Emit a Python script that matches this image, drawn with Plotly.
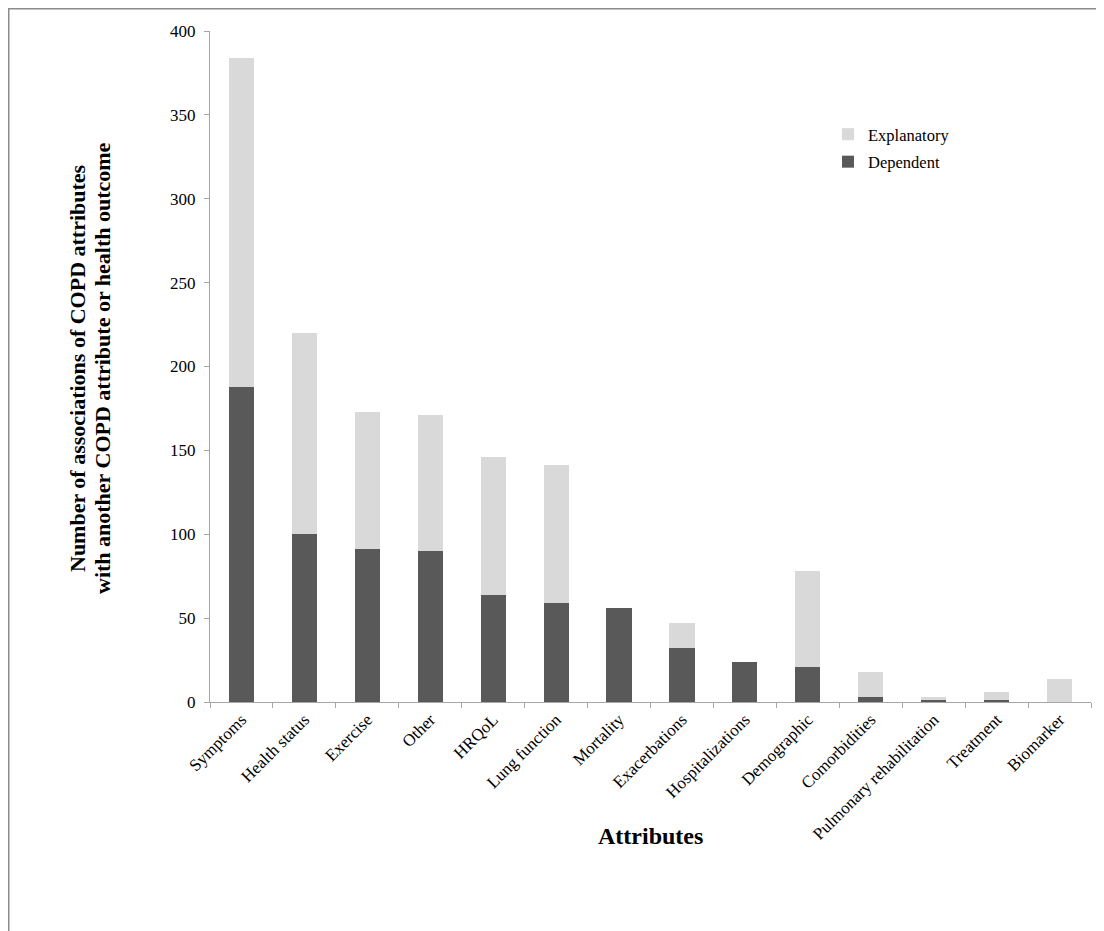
import plotly.graph_objects as go

categories = ["Symptoms", "Health status", "Exercise", "Other", "HRQoL", "Lung function",
              "Mortality", "Exacerbations", "Hospitalizations", "Demographic", "Comorbidities",
              "Pulmonary rehabilitation", "Treatment", "Biomarker"]
dependent = [188, 100, 91, 90, 64, 59, 56, 32, 24, 21, 3, 1, 1, 0]
explanatory = [196, 120, 82, 81, 82, 82, 0, 15, 0, 57, 15, 2, 5, 14]
y_ticks = [0, 50, 100, 150, 200, 250, 300, 350, 400]
y_title_lines = ["Number of associations of COPD attributes",
                 "with another COPD attribute or health outcome"]
x_title = "Attributes"

FONT = "Liberation Serif, Times New Roman, serif"
AXIS_COLOR = "#a6a6a6"

fig = go.Figure()
fig.add_trace(go.Bar(x=categories, y=dependent, name="Dependent", legendgroup="dep",
                     legendrank=2,
                     marker=dict(color="#595959", line=dict(width=0))))
fig.add_trace(go.Bar(x=categories, y=explanatory, name="Explanatory", legendgroup="exp",
                     legendrank=1,
                     marker=dict(color="#d9d9d9", line=dict(width=0))))

# page has an 8px body margin; work in page coordinates and convert
OFF = 8
W, H = 1104 - OFF, 931 - OFF
PL, PR, PT, PB = 210, 1091, 31, 702          # plot area in page pixels
L, T = PL - OFF, PT - OFF
R, B = W - (PR - OFF), H - (PB - OFF)
pw, ph = PR - PL, PB - PT

def px(x):
    return (x - PL) / pw

def py(y):
    return (PB - y) / ph

annotations = []
for line, xc in zip(y_title_lines, [77, 102]):
    annotations.append(dict(text=f"<b>{line}</b>", x=px(xc), y=py(368), xref="paper", yref="paper",
                            textangle=-90, xanchor="center", yanchor="middle",
                            showarrow=False, font=dict(size=22, family=FONT)))
annotations.append(dict(text=f"<b>{x_title}</b>", x=px(650), y=py(836), xref="paper", yref="paper",
                        xanchor="center", yanchor="middle",
                        showarrow=False, font=dict(size=24, family=FONT)))

fig.update_layout(
    width=W, height=H,
    margin=dict(l=L, r=R, t=T, b=B, autoexpand=False),
    barmode="stack", bargap=0.6,
    plot_bgcolor="white", paper_bgcolor="white",
    font=dict(family=FONT, color="black", size=16),
    showlegend=True,
    legend=dict(x=px(828), y=py(117), xanchor="left", yanchor="top",
                traceorder="grouped", tracegroupgap=3,
                font=dict(size=16.5, family=FONT),
                bgcolor="rgba(0,0,0,0)", itemwidth=30),
    xaxis=dict(type="category", showline=True, linecolor=AXIS_COLOR, linewidth=1,
               ticks="outside", tickson="boundaries", ticklen=5, tickcolor=AXIS_COLOR,
               tickangle=-45, tickfont=dict(size=17, family=FONT), showgrid=False),
    yaxis=dict(range=[0, 400], tickvals=y_ticks, showline=True, linecolor=AXIS_COLOR,
               linewidth=1, ticks="outside", ticklen=5, tickcolor=AXIS_COLOR,
               ticklabelstandoff=5,
               tickfont=dict(size=17, family=FONT), showgrid=False, zeroline=False),
    annotations=annotations,
    shapes=[
        dict(type="line", xref="paper", yref="paper", x0=px(7), x1=px(1110), y0=py(8.75), y1=py(8.75),
             line=dict(color="#8c8c8c", width=1.5)),
        dict(type="line", xref="paper", yref="paper", x0=px(8.75), x1=px(8.75), y0=py(8), y1=py(940),
             line=dict(color="#8c8c8c", width=1.5)),
    ],
)

fig.write_html("out.html")
